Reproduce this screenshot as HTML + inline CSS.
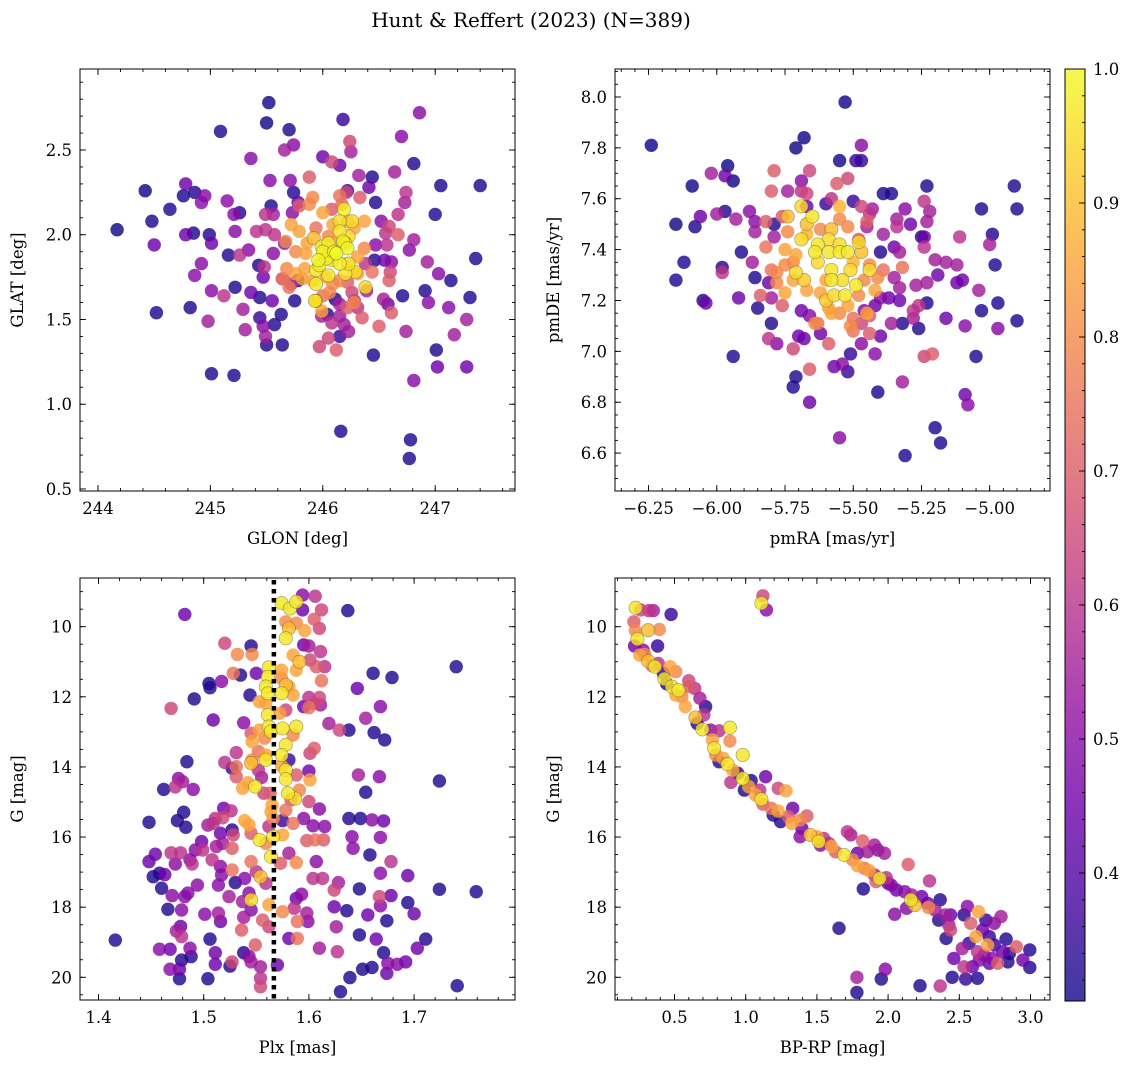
<!DOCTYPE html>
<html><head><meta charset="utf-8"><title>Hunt & Reffert (2023)</title>
<style>
html,body{margin:0;padding:0;background:#fff;}
svg{display:block;font-family:"DejaVu Serif","Liberation Serif",serif;}
</style></head>
<body>
<svg id="fig" width="1136" height="1068" viewBox="0 0 1136 1068" xmlns="http://www.w3.org/2000/svg">
<rect x="0" y="0" width="1136" height="1068" fill="#fff"/>
<text x="531" y="27" font-size="20" text-anchor="middle" fill="#000">Hunt &amp; Reffert (2023) (N=389)</text>
</svg>
<script>
// ---------- data ----------
const p1Glon=[245.52,245.50,245.09,245.70,246.18,246.86,245.74,245.66,245.36,246.24,246.25,246.0,246.08,246.15,246.70,246.81,246.64,244.42,244.78,244.76,244.86,244.95,244.92,244.64,244.48,244.17,244.50,244.78,244.85,244.99,245.01,245.15,245.26,245.21,245.22,245.16,245.26,245.34,244.92,244.86,244.52,244.82,245.01,245.12,245.22,245.36,245.44,245.29,244.98,245.31,245.44,245.47,245.49,245.50,245.57,245.63,245.64,245.01,245.21,246.16,246.78,246.77,246.81,246.45,246.74,247.02,247.01,247.28,247.28,247.17,247.12,247.31,247.14,247.03,246.93,246.91,246.94,246.71,247.36,247.0,247.05,247.40,246.77,246.81,246.67,246.73,246.74,246.47,246.44,246.41,246.32,246.33,246.21,246.22,245.88,245.53,245.71,245.74,245.78,245.73,245.54,245.49,245.56,245.41,245.49,245.57,245.56,245.43,245.48,245.47,245.55,245.64,245.72,245.75,245.78,245.66,245.97,246.12,246.08,246.05,246.15,246.23,246.19,246.35,246.31,246.22,246.15,246.50,246.54,246.58,246.61,246.59,246.60,246.61,246.55,246.44,246.46,246.38,246.39,246.57,246.56,246.47,246.52,246.67,246.59,246.22,246.26,246.28,246.15,246.11,246.04,245.99,245.94,245.99,
245.88,245.91,246.00,246.08,245.79,245.72,245.67,245.79,245.86,245.92,245.85,245.76,245.68,245.65,245.76,245.70,245.84,245.82,245.91,246.03,246.09,246.15,246.28,246.31,246.31,246.37,246.37,246.28,246.22,246.17,246.15,246.05,246.12,246.09,246.00,246.06,246.22,245.94,
246.19,246.26,246.15,246.05,245.99,246.20,246.22,246.12,246.03,245.96,245.94,246.05,246.20,246.29,246.23,246.15,246.08,245.94,245.93,246.38,246.15,246.23,246.10,246.00,246.18,245.97];
const p1Glat=[2.78,2.66,2.61,2.62,2.68,2.72,2.53,2.50,2.45,2.55,2.49,2.46,2.43,2.41,2.58,2.42,2.37,2.26,2.30,2.23,2.25,2.23,2.19,2.15,2.08,2.03,1.94,2.00,2.01,2.00,1.95,2.20,2.13,2.12,2.02,1.88,1.88,1.91,1.83,1.76,1.54,1.57,1.67,1.64,1.69,1.66,1.63,1.56,1.49,1.44,1.51,1.46,1.40,1.35,1.47,1.53,1.35,1.18,1.17,0.84,0.79,0.68,1.14,1.29,1.43,1.22,1.32,1.22,1.50,1.41,1.57,1.63,1.73,1.77,1.84,1.67,1.60,1.64,1.86,2.12,2.29,2.29,1.91,1.97,2.12,2.19,2.25,2.19,2.34,2.28,2.35,2.22,2.25,2.26,2.34,2.32,2.32,2.25,2.19,2.13,2.17,2.12,2.12,2.02,2.03,2.00,1.89,1.82,1.81,1.75,1.61,1.74,1.71,1.61,1.73,1.95,1.34,1.32,1.48,1.39,1.40,1.43,1.47,1.51,1.57,1.57,1.52,1.46,1.62,1.59,1.54,1.73,1.78,1.84,1.85,1.78,1.85,1.83,1.67,1.94,2.01,1.94,2.08,2.00,2.05,1.72,1.66,1.61,1.59,1.62,1.53,1.52,1.61,1.55,
2.18,2.22,2.13,2.15,2.17,2.06,1.96,2.02,1.95,1.98,1.89,1.90,1.80,1.74,1.77,1.69,1.80,1.74,1.73,1.75,1.71,1.73,1.60,1.77,1.87,1.92,2.08,2.04,2.08,2.18,2.23,1.99,1.96,2.06,1.64,1.66,1.83,2.04,
2.15,2.08,2.02,1.95,1.93,1.95,1.92,1.89,1.86,1.85,1.79,1.76,1.77,1.78,1.83,1.83,1.85,1.71,1.61,1.69,2.08,1.99,1.90,1.90,1.96,1.82];
const p1Prob=[.31,.31,.33,.33,.36,.5,.5,.55,.5,.65,.55,.45,.65,.45,.5,.33,.55,.31,.45,.33,.33,.5,.5,.33,.33,.31,.45,.45,.33,.33,.45,.5,.33,.5,.5,.33,.6,.5,.5,.5,.33,.33,.5,.6,.33,.45,.33,.55,.55,.55,.36,.5,.55,.33,.33,.33,.33,.33,.33,.33,.33,.33,.5,.33,.55,.45,.33,.45,.55,.55,.5,.33,.33,.5,.55,.33,.5,.33,.33,.33,.33,.33,.5,.55,.6,.55,.6,.33,.33,.45,.55,.7,.65,.36,.7,.5,.5,.33,.45,.5,.33,.6,.55,.6,.6,.6,.5,.33,.6,.45,.45,.65,.6,.33,.33,.5,.65,.7,.6,.65,.36,.55,.55,.7,.6,.7,.55,.7,.55,.45,.7,.7,.65,.5,.45,.75,.33,.6,.55,.6,.6,.5,.5,.7,.65,.7,.65,.55,.55,.33,.33,.55,.9,.85,
.8,.8,.85,.7,.7,.85,.8,.85,.85,.9,.85,.8,.8,.75,.85,.75,.85,.85,.85,.85,.8,.8,.8,.85,.85,.8,.85,.85,.85,.75,.75,.8,.85,.85,.75,.8,.85,.75,
.98,.95,.97,.98,.97,.97,.99,1.0,.98,.99,.97,.97,.96,.95,.97,.98,.97,.97,.96,.95,.96,.95,.99,.98,.98,.97];

const p2Pmra=[-6.24,-5.53,-5.68,-5.71,-5.47,-5.55,-5.49,-5.47,-5.79,-5.66,-6.02,-5.96,-5.97,-5.94,-6.09,-5.69,-5.56,-5.52,-5.80,-5.74,-5.69,-5.67,-5.67,-5.60,-5.58,-5.50,-5.47,-5.43,-5.39,-5.36,-5.31,-5.23,-5.24,-5.22,-5.23,-5.03,-4.91,-4.90,-6.15,-6.08,-6.06,-6.00,-5.97,-5.93,-5.88,-5.86,-5.82,-5.79,-5.76,-5.86,-5.79,-5.82,-5.91,-5.87,-5.98,-5.98,-6.12,-6.15,-6.05,-6.04,-5.92,-5.86,-5.81,-5.84,-5.80,-5.76,-5.85,-5.80,-5.81,-5.78,-5.94,-5.72,-5.71,-5.72,-5.66,-5.66,-5.69,-5.66,-5.70,-5.68,-5.62,-5.59,-5.63,-5.57,-5.52,-5.54,-5.51,-5.47,-5.42,-5.41,-5.55,-5.32,-5.31,-5.20,-5.18,-5.09,-5.08,-5.05,-5.21,-5.24,-5.32,-5.36,-5.26,-5.28,-5.28,-5.23,-5.26,-5.16,-5.09,-5.03,-4.97,-4.97,-4.90,-5.04,-5.10,-5.12,-5.19,-5.23,-5.27,-4.98,-5.12,-5.16,-5.20,-4.99,-5.00,-5.11,-5.24,-5.24,-5.25,-5.29,-5.34,-5.34,-5.35,-5.40,-5.39,-5.33,-5.32,-5.35,-5.33,-5.37,-5.33,-5.40,-5.42,-5.46,-5.44,-5.47,-5.44,-5.50,-5.50,-5.40,-5.44,-5.45,-5.45,-5.48,
-5.74,-5.69,-5.65,-5.69,-5.63,-5.64,-5.63,-5.59,-5.59,-5.58,-5.55,-5.52,-5.55,-5.48,-5.47,-5.51,-5.44,-5.58,-5.58,-5.57,-5.53,-5.49,-5.54,-5.60,-5.71,-5.68,-5.72,-5.67,-5.75,-5.78,-5.75,-5.80,-5.78,-5.72,-5.67,-5.67,-5.74,-5.75,-5.71,-5.55,-5.55,-5.60,-5.62,-5.59,-5.58,-5.55,-5.52,-5.48,-5.46,-5.44,-5.41,-5.42,-5.51,-5.45,-5.64,-5.50,-5.62,-5.52,-5.39];
const p2Pmde=[7.81,7.98,7.84,7.80,7.81,7.75,7.75,7.75,7.71,7.71,7.70,7.73,7.69,7.67,7.65,7.67,7.66,7.68,7.63,7.63,7.63,7.62,7.57,7.58,7.60,7.59,7.57,7.56,7.62,7.62,7.56,7.65,7.59,7.55,7.51,7.56,7.65,7.56,7.50,7.49,7.53,7.54,7.55,7.52,7.55,7.51,7.51,7.50,7.53,7.47,7.45,7.41,7.39,7.35,7.33,7.31,7.35,7.28,7.20,7.19,7.21,7.29,7.27,7.22,7.21,7.18,7.17,7.11,7.05,7.03,6.98,7.01,6.90,6.86,6.80,6.93,7.16,7.14,7.06,7.05,7.07,7.03,7.11,6.94,6.92,6.95,6.99,7.03,6.99,6.84,6.66,6.88,6.59,6.70,6.64,6.83,6.79,6.98,6.99,6.98,7.11,7.11,7.09,7.13,7.16,7.19,7.18,7.13,7.10,7.16,7.19,7.09,7.12,7.24,7.28,7.27,7.30,7.27,7.26,7.34,7.34,7.35,7.36,7.46,7.42,7.45,7.41,7.45,7.45,7.50,7.52,7.49,7.41,7.39,7.46,7.39,7.33,7.29,7.25,7.21,7.20,7.21,7.18,7.16,7.14,7.11,7.07,7.08,7.13,7.06,7.54,7.51,7.49,7.44,
7.53,7.57,7.53,7.44,7.42,7.39,7.35,7.39,7.44,7.48,7.39,7.39,7.42,7.43,7.39,7.32,7.32,7.32,7.28,7.22,7.22,7.26,7.28,7.20,7.31,7.28,7.28,7.24,7.23,7.31,7.34,7.32,7.27,7.35,7.50,7.46,7.47,7.40,7.38,7.57,7.52,7.28,7.23,7.17,7.15,7.15,7.18,7.22,7.28,7.34,7.29,7.24,7.10,7.15,7.11,7.35,7.48,7.49,7.32];
const p2Prob=[.31,.31,.31,.31,.5,.31,.36,.36,.7,.65,.55,.31,.45,.31,.31,.5,.7,.65,.7,.55,.6,.65,.45,.36,.6,.36,.65,.55,.33,.33,.5,.33,.6,.55,.55,.33,.33,.33,.31,.33,.45,.55,.33,.55,.5,.5,.7,.33,.7,.55,.55,.75,.33,.55,.33,.6,.33,.33,.33,.45,.45,.33,.45,.7,.55,.7,.33,.33,.6,.5,.33,.65,.33,.33,.45,.7,.45,.5,.45,.45,.45,.7,.75,.45,.36,.5,.36,.5,.5,.33,.5,.55,.33,.33,.33,.45,.5,.33,.7,.65,.33,.55,.33,.55,.6,.33,.6,.45,.5,.33,.33,.5,.33,.55,.45,.45,.45,.55,.55,.33,.55,.55,.55,.33,.55,.6,.6,.45,.33,.45,.55,.6,.45,.33,.55,.55,.75,.55,.55,.45,.45,.5,.45,.5,.7,.65,.7,.75,.75,.45,.6,.7,.55,.7,
.9,.95,.97,.95,.97,.97,.95,.97,.95,.9,.97,.97,.95,.95,.9,.95,.95,.97,.97,.95,.97,.97,.95,.92,.95,.92,.85,.85,.85,.8,.8,.75,.8,.8,.9,.88,.8,.85,.85,.88,.8,.85,.85,.85,.85,.8,.85,.8,.8,.8,.8,.85,.8,.85,.8,.88,.8,.8,.75];

const p3Plx=[1.416,1.482,1.448,1.462,1.476,1.480,1.473,1.490,1.475,1.481,1.483,1.484,1.469,1.491,1.505,1.506,1.517,1.509,1.520,1.545,1.550,1.535,1.528,1.532,1.546,1.544,1.448,1.454,1.452,1.458,1.460,1.463,1.469,1.473,1.478,1.487,1.489,1.492,1.498,1.504,1.509,1.511,1.518,1.519,1.526,1.512,1.518,1.516,1.527,1.528,1.527,1.516,1.508,1.499,1.527,1.517,1.514,1.530,1.539,1.494,1.485,1.482,1.470,1.479,1.466,1.501,1.514,1.516,1.506,1.478,1.474,1.479,1.458,1.468,1.487,1.488,1.479,1.468,1.477,1.477,1.504,1.511,1.511,1.525,1.527,1.524,1.537,1.538,1.536,1.538,1.543,1.545,1.549,1.554,1.554,1.554,1.556,1.543,1.545,1.559,1.545,1.562,1.570,1.581,1.588,1.593,1.589,1.589,1.586,1.598,1.599,1.610,1.613,1.604,1.624,1.624,1.628,1.626,1.627,1.630,1.636,1.639,1.648,1.648,1.656,1.664,1.667,1.668,1.678,1.674,1.671,1.675,1.674,1.684,1.692,1.694,1.700,1.703,1.711,1.724,1.759,1.741,1.651,1.660,1.668,1.694,1.678,1.658,1.641,1.642,1.668,1.638,1.649,1.660,1.671,1.654,1.647,1.667,1.724,1.740,1.661,1.679,1.646,1.668,1.654,1.662,1.672,1.638,1.629,1.619,1.637,1.606,1.612,1.610,1.605,1.600,1.611,1.594,1.594,1.595,1.615,1.607,1.601,1.612,1.600,1.605,1.610,1.600,1.611,1.595,1.605,1.601,1.600,1.601,1.588,1.591,1.600,1.610,1.595,1.604,1.615,1.614,1.598,1.606,1.607,1.588,1.581,1.573,1.575,1.585,1.575,1.578,1.583,
1.574,1.582,1.588,1.578,1.581,1.578,1.588,1.596,1.585,1.591,1.588,1.574,1.574,1.578,1.574,1.581,1.585,1.562,1.561,1.559,1.561,1.553,1.559,1.561,1.562,1.564,1.553,1.545,1.546,1.558,1.552,1.546,1.559,1.559,1.545,1.552,1.555,1.549,1.542,1.537,1.531,1.531,1.527,1.520,1.531,1.538,1.572,1.578,1.575,1.578,1.574,1.578,1.578,1.588,1.585,1.574,1.580,1.587,1.581,1.563,1.557,1.565,1.564,1.566,1.562,1.539,1.543,1.545,1.553,1.559,1.564,1.566,1.550,1.554,1.545,1.562,1.575];
const p3G=[18.94,9.65,15.58,14.64,14.33,14.42,14.57,14.64,15.53,15.29,15.72,13.85,12.33,12.06,11.62,11.74,11.56,12.66,10.47,10.55,11.33,11.38,11.33,10.79,10.79,11.95,16.70,16.49,17.13,17.03,17.46,17.07,16.45,16.77,16.45,16.65,16.77,16.37,16.13,15.66,15.61,15.47,15.45,15.18,15.25,16.27,16.18,15.89,15.80,15.94,16.32,16.84,16.65,16.37,16.94,17.08,17.37,17.30,17.18,17.37,17.60,17.70,17.67,18.08,18.06,18.20,18.17,18.41,18.91,18.55,18.68,18.84,19.20,19.20,19.17,19.41,19.51,19.77,19.77,20.04,20.04,19.30,19.63,19.68,19.56,17.70,17.84,18.29,18.65,19.30,19.41,19.56,19.08,19.70,20.03,20.27,18.37,17.60,18.08,17.32,16.70,18.56,19.65,18.89,17.75,17.63,18.89,18.41,18.03,18.17,18.41,19.17,17.18,17.18,17.99,17.51,17.30,18.56,19.27,20.41,18.10,20.01,17.48,18.79,18.22,18.91,17.70,17.96,17.67,18.39,19.30,19.60,19.89,19.63,19.56,17.87,18.19,19.17,18.91,17.49,17.56,20.24,19.77,19.72,17.03,17.10,16.70,16.51,15.99,16.32,16.01,15.47,15.47,15.51,15.54,14.72,14.23,14.28,14.40,11.14,11.33,11.45,11.76,12.28,12.61,13.02,13.23,12.95,12.95,12.76,9.54,9.13,9.52,10.05,9.79,10.55,10.71,9.10,9.52,10.52,11.14,11.14,10.95,11.54,12.02,12.19,12.02,12.31,12.23,12.28,13.47,13.61,14.12,14.37,14.23,14.66,14.99,15.20,15.47,15.68,15.70,16.08,16.10,16.08,16.70,16.73,16.46,16.75,15.94,15.61,15.53,15.23,14.94,
9.33,9.48,9.29,9.86,10.05,10.33,9.90,10.11,10.81,11.00,11.24,11.24,11.47,11.66,11.90,11.71,11.95,11.16,11.43,11.71,11.90,12.14,12.19,12.52,12.85,12.99,12.95,13.04,13.28,13.18,13.56,13.80,13.80,13.66,13.89,14.09,14.30,14.56,14.45,14.61,14.28,13.99,14.04,13.87,13.59,12.74,12.47,12.38,12.90,13.37,13.66,14.09,14.35,12.85,13.09,13.97,14.75,14.90,13.80,14.75,14.75,15.09,15.28,15.47,15.70,15.53,15.65,15.89,16.08,16.18,16.56,15.99,16.99,17.13,17.79,17.93,18.13];
const p3Prob=[.33,.45,.33,.33,.5,.55,.6,.5,.33,.33,.33,.33,.65,.33,.33,.33,.5,.45,.65,.33,.45,.33,.75,.8,.8,.33,.45,.45,.33,.33,.33,.45,.6,.5,.6,.5,.6,.5,.45,.55,.6,.6,.65,.45,.6,.55,.55,.45,.33,.65,.7,.5,.6,.6,.75,.5,.5,.33,.5,.5,.5,.5,.5,.5,.33,.5,.55,.45,.33,.45,.55,.6,.5,.45,.5,.33,.33,.5,.45,.33,.33,.45,.45,.33,.65,.55,.55,.55,.7,.33,.5,.55,.7,.55,.6,.65,.7,.5,.5,.6,.75,.65,.45,.45,.45,.5,.75,.75,.6,.55,.5,.55,.6,.6,.45,.65,.55,.55,.6,.33,.33,.33,.33,.33,.45,.45,.65,.5,.45,.33,.33,.5,.45,.5,.45,.33,.45,.45,.33,.33,.33,.33,.33,.33,.5,.45,.6,.33,.5,.5,.5,.33,.33,.5,.45,.33,.55,.5,.33,.33,.33,.33,.45,.5,.55,.33,.33,.33,.65,.55,.33,.6,.65,.65,.7,.55,.6,.5,.45,.45,.6,.7,.65,.75,.6,.65,.65,.75,.55,.45,.7,.65,.45,.85,.7,.8,.65,.5,.5,.5,.5,.7,.7,.75,.5,.8,.55,.7,.85,.75,.36,.75,.7,
.97,.97,.97,.8,.9,.97,.8,.85,.85,.9,.85,.85,.8,.9,.97,.85,.85,.97,.97,.97,.97,.85,.85,.97,.97,.97,.85,.7,.85,.8,.75,.8,.97,.85,.9,.6,.55,.97,.85,.85,.7,.75,.36,.6,.6,.5,.85,.65,.97,.97,.97,.97,.97,.97,.8,.85,.97,.95,.36,.7,.65,.85,.85,.8,.6,.85,.85,.7,.97,.8,.97,.97,.6,.9,.95,.85,.8];
const plxRef=[1.5667];

const p4Bprp=[0.227,0.263,0.320,0.351,0.476,1.121,1.145,1.110,0.215,0.225,0.315,0.393,0.239,0.381,0.220,0.280,0.256,0.291,0.315,0.343,0.386,0.362,0.422,0.469,0.509,0.429,0.445,0.481,0.528,0.509,0.552,0.600,0.642,0.678,0.600,0.576,0.718,0.706,0.647,0.659,0.695,0.754,0.813,0.889,0.889,0.766,0.778,0.790,0.842,0.813,0.872,0.979,0.908,0.944,0.979,1.038,0.896,1.021,0.991,1.069,1.110,1.098,1.140,1.228,1.283,1.121,1.180,1.228,1.193,1.245,1.330,1.299,1.323,1.382,1.430,1.394,1.382,1.453,1.501,1.513,1.548,1.525,1.584,1.603,1.631,1.714,1.738,1.785,1.821,1.856,1.904,1.928,1.975,1.690,1.750,1.785,1.833,1.868,1.904,1.940,1.916,1.987,2.022,1.999,1.826,2.141,2.291,2.058,2.117,2.165,2.160,2.188,2.236,2.278,2.283,2.330,2.366,2.355,2.402,2.438,2.426,2.438,2.407,2.046,2.129,1.655,2.533,2.557,2.580,2.635,2.687,2.746,2.793,2.617,2.664,2.711,2.699,2.746,2.829,2.900,2.995,2.805,2.852,2.521,2.568,2.628,2.675,2.734,2.462,2.533,2.592,2.640,2.711,2.770,2.841,2.947,2.995,2.450,2.628,2.366,2.224,1.952,1.980,1.781,1.781,2.545];
const p4G=[9.46,9.52,9.54,9.54,9.65,9.12,9.52,9.33,9.86,10.11,10.10,10.08,10.35,10.55,10.55,10.67,10.81,10.79,10.98,11.11,11.05,11.14,11.33,11.14,11.28,11.49,11.63,11.71,11.81,11.95,12.00,11.54,11.76,12.04,11.71,12.28,12.28,12.52,12.59,12.76,12.93,12.95,12.97,12.88,13.26,13.23,13.47,13.66,13.75,13.85,13.92,13.66,14.09,14.18,14.33,14.39,14.44,14.56,14.66,14.80,14.92,14.66,14.28,14.61,14.68,15.06,15.18,15.26,15.37,15.56,15.18,15.42,15.61,15.51,15.40,15.75,15.99,15.94,15.99,16.13,16.04,16.23,16.18,16.27,16.42,15.85,15.94,16.46,16.11,16.42,16.23,16.37,16.46,16.51,16.65,16.82,16.89,16.96,17.08,17.18,17.27,17.16,17.37,17.32,17.48,16.78,17.25,17.51,17.56,17.65,17.79,17.94,17.70,17.89,18.01,18.08,17.79,18.37,18.22,18.22,18.51,18.65,18.89,18.20,18.03,18.60,18.22,17.98,18.46,18.13,18.37,18.46,18.27,18.84,18.65,18.84,19.08,19.08,18.91,19.13,19.22,19.27,19.32,19.18,19.03,19.27,19.37,19.46,19.46,19.70,19.70,19.51,19.60,19.60,19.56,19.51,19.72,20.00,20.03,20.25,20.24,20.05,19.77,20.00,20.43,20.05];
const p4Prob=[.97,.65,.6,.55,.36,.65,.5,.97,.7,.8,.9,.8,.97,.36,.45,.5,.85,.8,.9,.7,.6,.97,.36,.85,.8,.97,.33,.97,.97,.85,.8,.65,.6,.55,.7,.85,.33,.6,.9,.33,.97,.5,.6,.97,.8,.85,.97,.8,.85,.33,.97,.97,.85,.36,.97,.33,.6,.85,.33,.85,.97,.6,.45,.65,.85,.7,.75,.85,.33,.33,.45,.7,.85,.8,.7,.45,.5,.9,.85,.97,.6,.5,.6,.85,.7,.6,.55,.45,.7,.55,.55,.5,.55,.97,.8,.85,.75,.85,.55,.97,.7,.6,.5,.45,.33,.7,.6,.45,.5,.55,.97,.9,.45,.45,.8,.55,.33,.33,.55,.45,.55,.65,.33,.5,.5,.33,.33,.5,.7,.85,.36,.5,.55,.85,.45,.36,.85,.36,.33,.7,.33,.45,.33,.55,.36,.6,.5,.5,.45,.6,.45,.5,.45,.7,.33,.45,.33,.33,.33,.6,.33,.33,.5,.55,.33,.36];

const cbarTicks=[0.4,0.5,0.6,0.7,0.8,0.9,1.0];
const vMin=0.3045, vMax=1.0;

// ---------- helpers ----------
const NS='http://www.w3.org/2000/svg';
const svg=document.getElementById('fig');
function mk(tag,attrs,parent){const e=document.createElementNS(NS,tag);for(const k in attrs)e.setAttribute(k,attrs[k]);(parent||svg).appendChild(e);return e;}
const plasma=[[13,8,135],[65,4,157],[106,0,168],[143,13,164],[177,42,144],[204,71,120],[225,100,98],[242,132,75],[252,166,54],[252,206,37],[240,249,33]];
function cmap(v){let t=(v-vMin)/(vMax-vMin);t=Math.max(0,Math.min(1,t))*10;const i=Math.min(9,Math.floor(t)),f=t-i;const a=plasma[i],b=plasma[i+1];return 'rgb('+[0,1,2].map(k=>Math.round(a[k]+(b[k]-a[k])*f)).join(',')+')';}
function lin(d0,d1,r0,r1){return v=>r0+(v-d0)/(d1-d0)*(r1-r0);}
function fmt(v,dec){return (v<0?'\u2212':'')+Math.abs(v).toFixed(dec);}
const FS=16.5;

function panel(o){
  const g=mk('g',{});
  
  
  const X=lin(o.xd[0],o.xd[1],o.L,o.R), Y=lin(o.yd[0],o.yd[1],o.B,o.T);
  const idx=o.xs.map((_,i)=>i).sort((a,b)=>o.ps[a]-o.ps[b]);
  const cp=mk('clipPath',{id:o.name+'-clip'},g);
  mk('rect',{x:o.L,y:o.T,width:o.R-o.L,height:o.B-o.T},cp);
  const pg=mk('g',{},g);
  
  
  pg.setAttribute('clip-path','url(#'+o.name+'-clip)');
  idx.forEach(i=>{
    const c=mk('circle',{cx:X(o.xs[i]).toFixed(1),cy:Y(o.ys[i]).toFixed(1),r:6.7,fill:cmap(o.ps[i]),'fill-opacity':0.82},pg);
    if(o.ps[i]>=0.9){c.setAttribute('stroke','rgba(90,90,60,0.55)');c.setAttribute('stroke-width','0.7');}
    
    
  });
  if(o.extra)o.extra(g,X,Y);
  const fr=mk('rect',{x:o.L,y:o.T,width:o.R-o.L,height:o.B-o.T,fill:'none',stroke:'#000','stroke-width':1},g);
  
  
  const tg=mk('g',{stroke:'#000','stroke-width':0.9},g);
  function rng(a,b,s){const r=[];for(let v=Math.ceil(a/s-1e-6)*s;v<=b+1e-9;v+=s)r.push(+v.toFixed(6));return r;}
  rng(o.xd[0],o.xd[1],o.xminor).forEach(v=>{const x=X(v);mk('line',{x1:x,x2:x,y1:o.B,y2:o.B-3},tg);mk('line',{x1:x,x2:x,y1:o.T,y2:o.T+3},tg);});
  rng(Math.min(o.yd[0],o.yd[1]),Math.max(o.yd[0],o.yd[1]),o.yminor).forEach(v=>{const y=Y(v);mk('line',{x1:o.L,x2:o.L+3,y1:y,y2:y},tg);mk('line',{x1:o.R,x2:o.R-3,y1:y,y2:y},tg);});
  o.xt.forEach(v=>{const x=X(v);mk('line',{x1:x,x2:x,y1:o.B,y2:o.B-6},tg);mk('line',{x1:x,x2:x,y1:o.T,y2:o.T+6},tg);
    const t=mk('text',{x:x,y:o.B+23,'font-size':FS,'text-anchor':'middle'},g);t.textContent=fmt(v,o.xdec);
    });
  o.yt.forEach(v=>{const y=Y(v);mk('line',{x1:o.L,x2:o.L+6,y1:y,y2:y},tg);mk('line',{x1:o.R,x2:o.R-6,y1:y,y2:y},tg);
    const t=mk('text',{x:o.L-8,y:y+6,'font-size':FS,'text-anchor':'end'},g);t.textContent=fmt(v,o.ydec);
    });
  const xl=mk('text',{x:(o.L+o.R)/2,y:o.B+53,'font-size':FS,'text-anchor':'middle'},g);xl.textContent=o.xlab;
  
  const yx=o.ylabX, yy=(o.T+o.B)/2;
  const yl=mk('text',{x:yx,y:yy,'font-size':FS,'text-anchor':'middle',transform:'rotate(-90 '+yx+' '+yy+')'},g);yl.textContent=o.ylab;
  
}

panel({name:'glon-glat-panel',L:80,R:515,T:69,B:491,xd:[243.84,247.71],yd:[0.488,2.978],xs:p1Glon,ys:p1Glat,ps:p1Prob,
  xt:[244,245,246,247],yt:[0.5,1.0,1.5,2.0,2.5],xdec:0,ydec:1,xminor:0.2,yminor:0.1,xlab:'GLON [deg]',ylab:'GLAT [deg]',ylabX:23});
panel({name:'proper-motion-panel',L:615,R:1050,T:69,B:491,xd:[-6.373,-4.779],yd:[6.451,8.110],xs:p2Pmra,ys:p2Pmde,ps:p2Prob,
  xt:[-6.25,-6.0,-5.75,-5.5,-5.25,-5.0],yt:[6.6,6.8,7.0,7.2,7.4,7.6,7.8,8.0],xdec:2,ydec:1,xminor:0.05,yminor:0.05,xlab:'pmRA [mas/yr]',ylab:'pmDE [mas/yr]',ylabX:559});
panel({name:'parallax-panel',L:80,R:515,T:578,B:1000,xd:[1.3824,1.7959],yd:[20.648,8.611],xs:p3Plx,ys:p3G,ps:p3Prob,
  xt:[1.4,1.5,1.6,1.7],yt:[10,12,14,16,18,20],xdec:1,ydec:0,xminor:0.02,yminor:0.5,xlab:'Plx [mas]',ylab:'G [mag]',ylabX:23,
  extra:(g,X,Y)=>{const l=mk('line',{x1:X(plxRef[0]),x2:X(plxRef[0]),y1:580,y2:1000,stroke:'#000','stroke-width':4.5,'stroke-dasharray':'4.5 4.5'},g);
    }});
panel({name:'cmd-panel',L:615,R:1050,T:578,B:1000,xd:[0.082,3.137],yd:[20.648,8.611],xs:p4Bprp,ys:p4G,ps:p4Prob,
  xt:[0.5,1.0,1.5,2.0,2.5,3.0],yt:[10,12,14,16,18,20],xdec:1,ydec:0,xminor:0.1,yminor:0.5,xlab:'BP-RP [mag]',ylab:'G [mag]',ylabX:559});

// colorbar
(function(){
  const L=1065,R=1085,T=69,B=1001;
  const g=mk('g',{});
  
  
  const defs=mk('defs',{},g);
  const lg=mk('linearGradient',{id:'cbg',x1:0,y1:1,x2:0,y2:0},defs);
  for(let i=0;i<=20;i++){const v=vMin+(vMax-vMin)*i/20;mk('stop',{offset:(i/20),'stop-color':cmap(v),'stop-opacity':0.8},lg);}
  mk('rect',{x:L,y:T,width:R-L,height:B-T,fill:'url(#cbg)',stroke:'#000','stroke-width':1},g);
  const Y=lin(vMin,vMax,B,T);
  for(let v=0.32;v<=1.0001;v+=0.02){const y=Y(v);mk('line',{x1:R,x2:R-3,y1:y,y2:y,stroke:'#000','stroke-width':0.9},g);}
  cbarTicks.forEach(v=>{const y=Y(v);mk('line',{x1:R,x2:R-6,y1:y,y2:y,stroke:'#000','stroke-width':0.9},g);
    const t=mk('text',{x:R+8,y:y+6,'font-size':FS},g);t.textContent=v.toFixed(1);
    });
})();
</script>
</body></html>
